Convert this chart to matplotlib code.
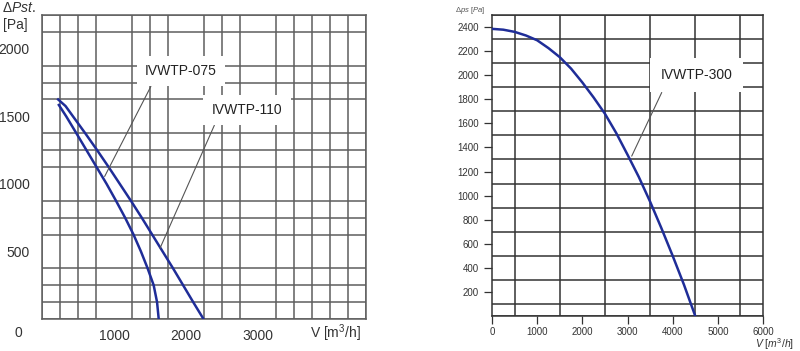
import matplotlib.pyplot as plt

plt.rcParams['font.family'] = ['Liberation Sans', 'DejaVu Sans']
plt.rcParams['mathtext.fontset'] = 'custom'
plt.rcParams['mathtext.rm'] = 'Liberation Sans'
plt.rcParams['mathtext.it'] = 'Liberation Sans:italic'

# left chart: IVWTP-075 / IVWTP-110, V [m3/h] vs dPst [Pa]
v_075 = [234, 336, 477, 617, 757, 897, 1028, 1154, 1271, 1374, 1467, 1551, 1598, 1621]
p_075 = [1584, 1500, 1375, 1250, 1125, 1000, 875, 750, 625, 500, 375, 250, 125, 0]
v_110 = [224, 327, 430, 600, 765, 925, 1080, 1235, 1385, 1530, 1675, 1820, 1960, 2100, 2243]
p_110 = [1625, 1576, 1500, 1375, 1250, 1125, 1000, 875, 750, 625, 500, 375, 250, 125, 0]
left_xticks = [1000, 2000, 3000]
left_yticks = [500, 1000, 1500, 2000]

# right chart: IVWTP-300
v_300 = [0, 250, 500, 750, 1000, 1250, 1500, 1750, 2000, 2250, 2500,
         2750, 3000, 3250, 3500, 3750, 4000, 4250, 4500]
p_300 = [2385, 2378, 2360, 2330, 2290, 2225, 2150, 2055, 1940, 1815, 1680,
         1520, 1340, 1155, 950, 730, 500, 260, 0]
right_xticks = [0, 1000, 2000, 3000, 4000, 5000, 6000]
right_yticks = [200, 400, 600, 800, 1000, 1200, 1400, 1600, 1800, 2000, 2200, 2400]

curve_color = '#1f2d98'

fig = plt.figure(figsize=(8, 3.51), dpi=100)

# ---- left chart
ax = fig.add_axes([42 / 800, 1 - 319 / 351, 324 / 800, 304 / 351])
ax.set_xlim(0, 4500)
ax.set_ylim(0, 2250)
ax.set_xticks(range(0, 4501, 250), minor=True)
ax.set_yticks(range(0, 2251, 125), minor=True)
ax.set_xticks(left_xticks)
ax.set_yticks(left_yticks)
ax.grid(which='minor', color='#5e5e5e', lw=1.1)
ax.tick_params(which='both', length=0, labelsize=10, labelcolor='#333333')
ax.tick_params(axis='x', pad=7)
ax.tick_params(axis='y', pad=9)
for s in ax.spines.values():
    s.set_color('#5e5e5e')
    s.set_linewidth(1.1)

ax.plot(v_075, p_075, color=curve_color, lw=1.8, zorder=3, solid_joinstyle='round')
ax.plot(v_110, p_110, color=curve_color, lw=1.8, zorder=3, solid_joinstyle='round')

box = dict(boxstyle='square,pad=0.6', fc='white', ec='none')
ax.annotate('IVWTP-075', xy=(870, 1055), xytext=(1931, 1835),
            ha='center', va='center', fontsize=10, color='#222222', bbox=box,
            arrowprops=dict(arrowstyle='-', color='#555555', lw=0.8,
                            relpos=(0.14, 0), shrinkA=0, shrinkB=0), zorder=4)
ax.annotate('IVWTP-110', xy=(1640, 525), xytext=(2847, 1547),
            ha='center', va='center', fontsize=10, color='#222222', bbox=box,
            arrowprops=dict(arrowstyle='-', color='#555555', lw=0.8,
                            relpos=(0.09, 0), shrinkA=0, shrinkB=0), zorder=4)

fig.text(18 / 800, 1 - 333 / 351, '0', ha='center', va='center', fontsize=10, color='#333333')
fig.text(335 / 800, 1 - 333 / 351, 'V [m$^3$/h]', ha='center', va='center',
         fontsize=10, color='#333333')
fig.text(2 / 800, 1 - 8 / 351, r'$\Delta\mathit{Pst.}$', ha='left', va='center',
         fontsize=10, color='#333333')
fig.text(3 / 800, 1 - 25 / 351, '[Pa]', ha='left', va='center', fontsize=10, color='#333333')

# ---- right chart
ax2 = fig.add_axes([492 / 800, 1 - 316 / 351, 271 / 800, 301 / 351])
ax2.set_xlim(0, 6000)
ax2.set_ylim(0, 2500)
ax2.set_xticks(range(0, 6001, 500), minor=True)
ax2.set_yticks(range(0, 2501, 100), minor=True)
ax2.set_xticks(right_xticks)
ax2.set_yticks(right_yticks)
ax2.grid(which='minor', color='#333333', lw=1.1)
ax2.tick_params(which='minor', length=0)
ax2.tick_params(which='major', length=6, width=0.9, color='#333333',
                labelsize=7, labelcolor='#333333')
ax2.tick_params(axis='x', pad=2)
for s in ax2.spines.values():
    s.set_color('#333333')
    s.set_linewidth(1.1)

ax2.plot(v_300, p_300, color=curve_color, lw=1.8, zorder=3, solid_joinstyle='round')
ax2.annotate('IVWTP-300', xy=(3093, 1328), xytext=(4535, 2001),
             ha='center', va='center', fontsize=10, color='#222222',
             bbox=dict(boxstyle='square,pad=0.75', fc='white', ec='none'),
             arrowprops=dict(arrowstyle='-', color='#555555', lw=0.8,
                             relpos=(0.08, 0), shrinkA=0, shrinkB=0), zorder=4)

fig.text(485 / 800, 1 - 10 / 351, r'$\Delta\mathit{ps\ [Pa]}$', ha='right', va='center',
         fontsize=5.5, color='#555555')
fig.text(794 / 800, 1 - 344 / 351, r'$\mathit{V\ [m^3/h]}$', ha='right', va='center',
         fontsize=7.5, color='#333333')

plt.savefig('out.png', dpi=100)
